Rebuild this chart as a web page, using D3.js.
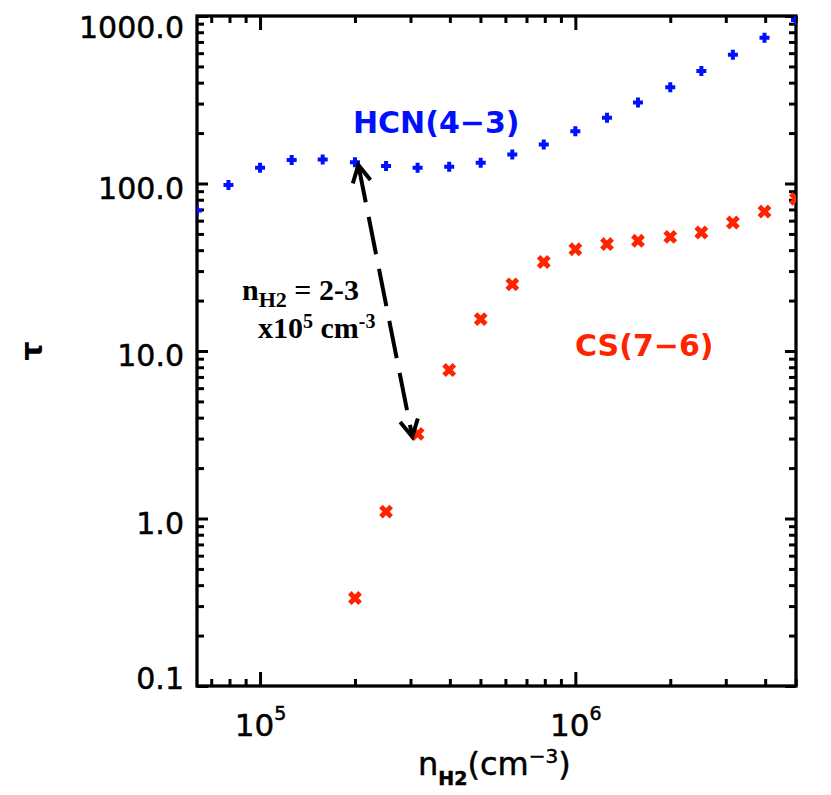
<!DOCTYPE html>
<html>
<head>
<meta charset="utf-8">
<script src="https://cdn.jsdelivr.net/npm/d3@7"></script>
<style>
  body { margin: 0; background: #fff; }
  svg text { font-family: "DejaVu Sans", sans-serif; }
</style>
</head>
<body>
<svg id="chart"></svg>
<script>
// tau vs n(H2) for HCN(4-3) and CS(7-6)

// density grid, cm^-3 (0.1 dex steps)
var densHCN = [6.31e4, 7.94e4, 1.0e5, 1.26e5, 1.58e5, 2.0e5, 2.51e5, 3.16e5, 3.98e5, 5.01e5,
               6.31e5, 7.94e5, 1.0e6, 1.26e6, 1.58e6, 2.0e6, 2.51e6, 3.16e6, 3.98e6, 5.01e6];
var tauHCN  = [69, 98, 124, 138, 139, 134, 127, 124, 126, 133,
               149, 171, 205, 247, 305, 376, 469, 588, 741, 948];

var densCS = [2.0e5, 2.51e5, 3.16e5, 3.98e5, 5.01e5, 6.31e5, 7.94e5, 1.0e6,
              1.26e6, 1.58e6, 2.0e6, 2.51e6, 3.16e6, 3.98e6, 5.01e6];
var tauCS  = [0.335, 1.1, 3.2, 7.7, 15.5, 25, 34, 40.5,
              43.5, 45.5, 48, 51, 58.5, 68, 81];

// axes
var xDomain = [6.31e4, 5.01e6];
var yDomain = [0.1, 1000];
var yTicks = [0.1, 1, 10, 100, 1000];
var yTickLabels = ["0.1", "1.0", "10.0", "100.0", "1000.0"];
var xTicks = [1e5, 1e6];
var xTickExp = ["5", "6"];

// arrow between the two lines: [density, tau]
var arrowFrom = [2.05e5, 129];
var arrowTo = [3.04e5, 3.07];

var blue = "#0010ff";
var red = "#ff2400";

function TauPlot(containerEl) {
	var self = this;
	this.width = 831;
	this.height = 795;
	//画布周边的空白
	this.padding = {left: 197, right: 35, top: 16, bottom: 109};
	this.w = this.width - this.padding.left - this.padding.right;
	this.h = this.height - this.padding.top - this.padding.bottom;

	this.svg = d3.select(containerEl)
		.attr("width", this.width)
		.attr("height", this.height);

	this.x = d3.scaleLog().domain(xDomain).range([0, this.w]);
	this.y = d3.scaleLog().domain(yDomain).range([this.h, 0]);

	this.g = this.svg.append("g")
		.attr("transform", "translate(" + this.padding.left + "," + this.padding.top + ")");

	this.svg.append("defs").append("clipPath").attr("id", "plotArea")
		.append("rect").attr("width", this.w).attr("height", this.h);

	this.drawAxes();
	this.drawPoints();
	this.drawLabels();
}

TauPlot.prototype.drawAxes = function() {
	var x = this.x, y = this.y, w = this.w, h = this.h, g = this.g;
	var xMinor = x.ticks().filter(function(d) { return xTicks.indexOf(d) < 0; });
	var yMinor = y.ticks().filter(function(d) { return yTicks.indexOf(d) < 0; });

	function clean(sel) {
		sel.select(".domain").remove();
		sel.selectAll(".tick line").attr("stroke", "#000").attr("stroke-width", 3);
	}

	// minor ticks, all four sides
	g.append("g").call(d3.axisLeft(y).tickValues(yMinor).tickSize(-7).tickFormat("")).call(clean);
	g.append("g").attr("transform", "translate(" + w + ",0)")
		.call(d3.axisRight(y).tickValues(yMinor).tickSize(-7).tickFormat("")).call(clean);
	g.append("g").attr("transform", "translate(0," + h + ")")
		.call(d3.axisBottom(x).tickValues(xMinor).tickSize(-7).tickFormat("")).call(clean);
	g.append("g").call(d3.axisTop(x).tickValues(xMinor).tickSize(-7).tickFormat("")).call(clean);

	// major ticks
	var yl = g.append("g")
		.call(d3.axisLeft(y).tickValues(yTicks).tickSize(-11).tickPadding(13)
			.tickFormat(function(d, i) { return yTickLabels[i]; }))
		.call(clean);
	yl.selectAll(".tick text")
		.attr("fill", "#000")
		.style("font-size", "30px")
		.style("stroke", "#000").style("stroke-width", 0.5)
		.attr("dy", null)
		.attr("y", function(d) { return d == 1000 ? 21.5 : (d == 0.1 ? 2 : 14.5); });

	g.append("g").attr("transform", "translate(" + w + ",0)")
		.call(d3.axisRight(y).tickValues(yTicks).tickSize(-11).tickFormat("")).call(clean);

	var xl = g.append("g").attr("transform", "translate(0," + h + ")")
		.call(d3.axisBottom(x).tickValues(xTicks).tickSize(-14)
			.tickFormat(function() { return "10"; }))
		.call(clean);
	xl.selectAll(".tick text")
		.attr("fill", "#000")
		.style("font-size", "31px")
		.style("stroke", "#000").style("stroke-width", 0.5)
		.attr("dy", null)
		.attr("y", 50)
		.attr("text-anchor", "middle")
		.append("tspan")
		.attr("dy", -16)
		.style("font-size", "19px")
		.text(function(d, i) { return xTickExp[i]; });

	g.append("g").call(d3.axisTop(x).tickValues(xTicks).tickSize(-14).tickFormat("")).call(clean);

	// frame
	g.append("rect")
		.attr("width", w).attr("height", h)
		.attr("fill", "none").attr("stroke", "#000").attr("stroke-width", 3.3);
};

TauPlot.prototype.drawPoints = function() {
	var x = this.x, y = this.y;
	var pts = this.g.append("g").attr("clip-path", "url(#plotArea)");

	pts.selectAll(".hcn")
		.data(densHCN.map(function(d, i) { return [d, tauHCN[i]]; }))
		.enter().append("path")
		.attr("class", "hcn")
		.attr("transform", function(d) { return "translate(" + x(d[0]) + "," + y(d[1]) + ")"; })
		.attr("d", "M-5,0H5M0,-5V5")
		.attr("stroke", blue).attr("stroke-width", 4).attr("fill", "none");

	pts.selectAll(".cs")
		.data(densCS.map(function(d, i) { return [d, tauCS[i]]; }))
		.enter().append("path")
		.attr("class", "cs")
		.attr("transform", function(d) { return "translate(" + x(d[0]) + "," + y(d[1]) + ")"; })
		.attr("d", "M-3.4,-3.4L3.4,3.4M-3.4,3.4L3.4,-3.4")
		.attr("stroke", red).attr("stroke-width", 5).attr("stroke-linecap", "square").attr("fill", "none");

	// dashed double arrow
	var defs = this.svg.select("defs");
	defs.append("marker")
		.attr("id", "head")
		.attr("markerUnits", "userSpaceOnUse")
		.attr("orient", "auto-start-reverse")
		.attr("markerWidth", 40).attr("markerHeight", 40)
		.attr("refX", 0).attr("refY", 0)
		.attr("viewBox", "-20 -20 40 40")
		.append("path")
		.attr("d", "M-17,-9L0,0L-17,9")
		.attr("fill", "none").attr("stroke", "#000").attr("stroke-width", 4)
		.attr("stroke-dasharray", "none");

	this.g.append("line")
		.attr("x1", x(arrowFrom[0])).attr("y1", y(arrowFrom[1]))
		.attr("x2", x(arrowTo[0])).attr("y2", y(arrowTo[1]))
		.attr("stroke", "#000").attr("stroke-width", 4)
		.attr("stroke-dasharray", "38,15")
		.attr("marker-start", "url(#head)")
		.attr("marker-end", "url(#head)");
};

TauPlot.prototype.drawLabels = function() {
	var svg = this.svg;

	svg.append("text")
		.attr("x", 353).attr("y", 133)
		.attr("fill", blue)
		.style("font-size", "30px").style("font-weight", "bold")
		.text("HCN(4\u22123)");

	svg.append("text")
		.attr("x", 575).attr("y", 356)
		.attr("fill", red)
		.style("font-size", "30px").style("font-weight", "bold")
		.text("CS(7\u22126)");

	// y title
	svg.append("text")
		.attr("transform", "translate(42,351) rotate(-90)")
		.attr("text-anchor", "middle")
		.style("font-size", "30px").style("font-weight", "bold")
		.text("\u03c4");

	// x title
	var xt = svg.append("text")
		.attr("x", 418).attr("y", 775)
		.style("font-size", "32px")
		.style("stroke", "#000").style("stroke-width", 0.5);
	xt.append("tspan").text("n");
	xt.append("tspan").attr("dy", 10).style("font-size", "19px").style("font-weight", "bold").text("H2");
	xt.append("tspan").attr("dy", -10).text("(cm");
	xt.append("tspan").attr("dy", -12).style("font-size", "20px").text("\u22123");
	xt.append("tspan").attr("dy", 12).text(")");

	// annotation (Times)
	var serif = "'Liberation Serif', 'Times New Roman', serif";
	var a1 = svg.append("text")
		.attr("x", 242).attr("y", 300)
		.style("font-family", serif).style("font-weight", "bold").style("font-size", "30px");
	a1.append("tspan").text("n");
	a1.append("tspan").attr("dy", 7).style("font-size", "22px").text("H2");
	a1.append("tspan").attr("dy", -7).text(" = 2-3");

	var a2 = svg.append("text")
		.attr("x", 258).attr("y", 338)
		.style("font-family", serif).style("font-weight", "bold").style("font-size", "30px");
	a2.append("tspan").text("x10");
	a2.append("tspan").attr("dy", -10).style("font-size", "20px").text("5");
	a2.append("tspan").attr("dy", 10).text(" cm");
	a2.append("tspan").attr("dy", -10).style("font-size", "20px").text("-3");
};

var plot = new TauPlot("#chart");
</script>
</body>
</html>
